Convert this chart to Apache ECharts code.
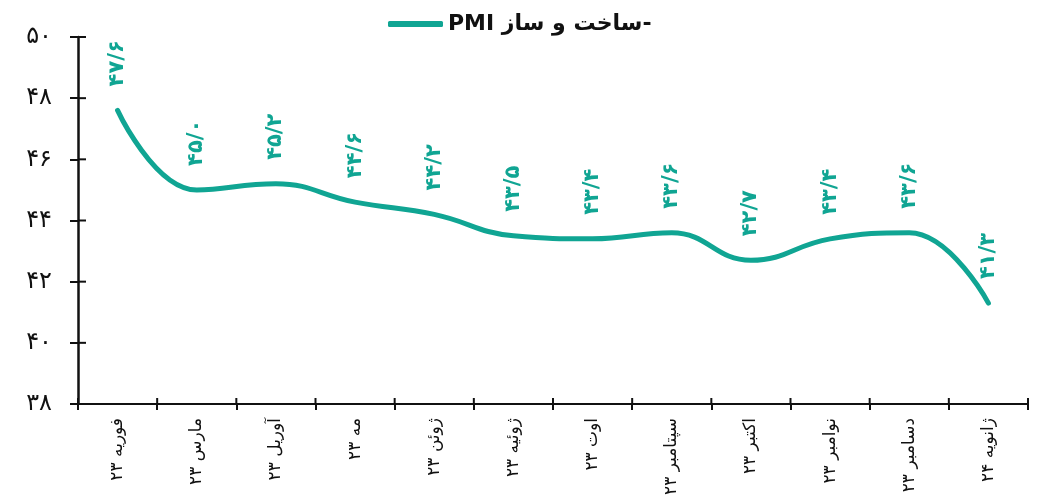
<!DOCTYPE html>
<html>
<head>
<meta charset="utf-8">
<script src="https://cdn.jsdelivr.net/npm/echarts@6/dist/echarts.min.js"></script>
<style>html,body{margin:0;padding:0;background:#fff;}#c{width:1051px;height:503px;}</style>
</head>
<body>
<div id="c"></div>
<script>
const categories = ['فوریه ۲۳','مارس ۲۳','آوریل ۲۳','مه ۲۳','ژوئن ۲۳','ژوئیه ۲۳','اوت ۲۳','سپتامبر ۲۳','اکتبر ۲۳','نوامبر ۲۳','دسامبر ۲۳','ژانویه ۲۴'];
const values = [47.6, 45.0, 45.2, 44.6, 44.2, 43.5, 43.4, 43.6, 42.7, 43.4, 43.6, 41.3];
const yTicks = [38, 40, 42, 44, 46, 48, 50];
const seriesName = 'PMI ساخت و ساز-';
const faDigits = ['۰','۱','۲','۳','۴','۵','۶','۷','۸','۹'];

function toFa(s){ return String(s).replace(/[0-9]/g, d => faDigits[+d]); }

const yMin = yTicks[0], yMax = yTicks[yTicks.length-1], yStep = yTicks[1]-yTicks[0];
const color = '#10a593';
const ink = '#111';
const font = 'DejaVu Sans, sans-serif';
const chart = echarts.init(document.getElementById('c'));

// inner halves of the crossing tick marks, positioned through the axes' own scales
function xInnerTick(params, api){
  const i = api.value(0);
  const p = api.coord([i, yMin]);
  const bw = api.size([1, 0])[0];
  const x = p[0] - bw/2;
  return {type:'line', shape:{x1:x, y1:p[1], x2:x, y2:p[1]-6}, style:{stroke:ink, lineWidth:2}, silent:true};
}
function xInnerTickLast(params, api){
  const i = api.value(0);
  const p = api.coord([i, yMin]);
  const bw = api.size([1, 0])[0];
  const x = p[0] + bw/2;
  return {type:'line', shape:{x1:x, y1:p[1], x2:x, y2:p[1]-6}, style:{stroke:ink, lineWidth:2}, silent:true};
}
function yInnerTick(params, api){
  const v = api.value(1);
  const p = api.coord([0, v]);
  const bw = api.size([1, 0])[0];
  const x = p[0] - bw/2;
  return {type:'line', shape:{x1:x, y1:p[1], x2:x+8, y2:p[1]}, style:{stroke:ink, lineWidth:2}, silent:true};
}

chart.setOption({
  animation:false,
  legend:{
    top:8, left:383, data:[seriesName],
    icon:'roundRect', itemWidth:55, itemHeight:6, itemGap:6,
    textStyle:{fontFamily:font, fontSize:22, fontWeight:'bold', color:ink}
  },
  grid:{left:78, right:23, top:37, bottom:99, containLabel:false},
  xAxis:{
    type:'category', data:categories, boundaryGap:true,
    axisLine:{lineStyle:{color:ink, width:2}},
    axisTick:{show:true, length:6, alignWithLabel:false, lineStyle:{color:ink, width:2}},
    axisLabel:{rotate:90, margin:14, fontFamily:font, fontSize:17, color:ink, interval:0}
  },
  yAxis:{
    type:'value', min:yMin, max:yMax, interval:yStep,
    splitLine:{show:false},
    axisLine:{show:true, lineStyle:{color:ink, width:2.5}},
    axisTick:{show:true, length:8, lineStyle:{color:ink, width:2}},
    axisLabel:{margin:26, fontFamily:font, fontSize:24, color:ink, formatter:v=>toFa(v)}
  },
  series:[{
    name:seriesName, type:'line', data:values, smooth:0.45,
    symbol:'circle', symbolSize:0, showSymbol:true,
    lineStyle:{color:color, width:5, cap:'round'},
    itemStyle:{color:color},
    z:3,
    label:{
      show:true, position:'top', distance:24, rotate:90,
      align:'left', verticalAlign:'middle',
      fontFamily:font, fontSize:21, fontWeight:'bold', color:color,
      formatter:p=>toFa(p.value.toFixed(1).replace('.','/'))
    }
  },{
    name:'_xticks', type:'custom', renderItem:xInnerTick, silent:true, clip:false,
    data:categories.map((c, i) => [i, yMin])
  },{
    name:'_xtickLast', type:'custom', renderItem:xInnerTickLast, silent:true, clip:false,
    data:[[categories.length-1, yMin]]
  },{
    name:'_yticks', type:'custom', renderItem:yInnerTick, silent:true, clip:false,
    data:yTicks.map(v => [0, v])
  }]
});
</script>
</body>
</html>
